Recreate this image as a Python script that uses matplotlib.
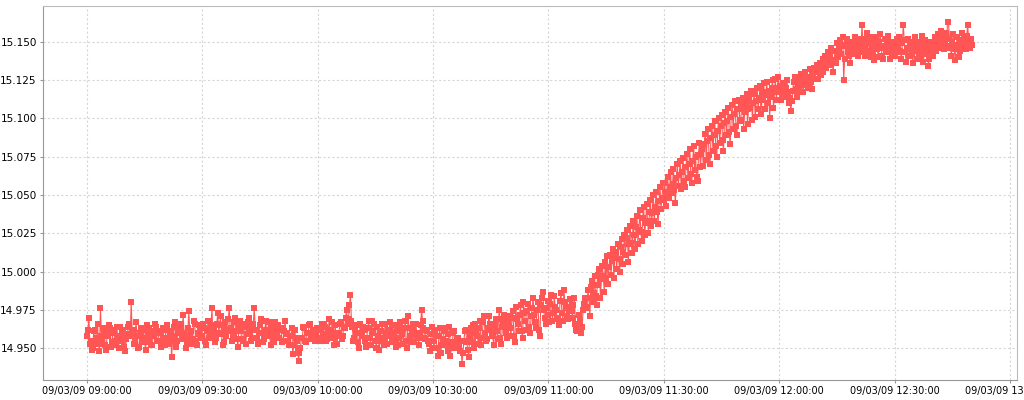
import matplotlib
matplotlib.use("Agg")
import matplotlib.pyplot as plt
import matplotlib.dates as mdates
import pandas as pd

# one reading every 15 s from 09:00:00 to 12:50:00, one line = 2.5 minutes
start_time = "2009-03-09 09:00:00"
step = "15s"

v_0900 = [14.958, 14.962, 14.970, 14.953, 14.955, 14.949, 14.950, 14.961, 14.962, 14.954,
          14.957, 14.966, 14.953, 14.948, 14.976, 14.958, 14.956, 14.963, 14.961, 14.952,
          14.949, 14.960, 14.958, 14.965, 14.963, 14.951, 14.954, 14.962, 14.960, 14.955,
          14.952, 14.964, 14.957, 14.950, 14.964, 14.958, 14.955, 14.962, 14.951, 14.957,
          14.948, 14.956, 14.959, 14.964, 14.966, 14.958, 14.980, 14.961, 14.962, 14.953,
          14.955, 14.967, 14.958, 14.950, 14.951, 14.960, 14.963, 14.955, 14.957, 14.962,
          14.954, 14.949, 14.965, 14.959, 14.956, 14.963, 14.960, 14.952, 14.952, 14.961,
          14.958, 14.966, 14.964, 14.955, 14.955, 14.960, 14.961, 14.951, 14.953, 14.963,
          14.957, 14.952, 14.962, 14.965, 14.956, 14.953, 14.959, 14.961, 14.944, 14.955,
          14.958, 14.964, 14.967, 14.951, 14.955, 14.962, 14.960, 14.966, 14.963, 14.956,
          14.972, 14.960, 14.957, 14.950, 14.954, 14.963, 14.974, 14.958, 14.961, 14.953,
          14.956, 14.968, 14.966, 14.955, 14.952, 14.960, 14.959, 14.965, 14.964, 14.957,
          14.958, 14.966, 14.963, 14.955, 14.952, 14.961, 14.968, 14.957, 14.960, 14.965,
          14.976, 14.958, 14.962, 14.954, 14.957, 14.966, 14.973, 14.960, 14.965, 14.971,
          14.959, 14.952, 14.954, 14.963, 14.967, 14.958, 14.961, 14.969, 14.976, 14.962,
          14.963, 14.955, 14.958, 14.967, 14.970, 14.961, 14.956, 14.951, 14.964, 14.968,
          14.961, 14.956, 14.955, 14.964, 14.966, 14.953, 14.959, 14.967, 14.970, 14.960,
          14.963, 14.955, 14.957, 14.966, 14.976, 14.962, 14.962, 14.957, 14.953, 14.960,
          14.965, 14.969, 14.960, 14.954, 14.956, 14.962, 14.968, 14.959, 14.962, 14.967,
          14.958, 14.952, 14.964, 14.960, 14.954, 14.963, 14.967, 14.958, 14.960, 14.965,
          14.957, 14.962, 14.963, 14.954, 14.955, 14.961, 14.968, 14.959, 14.960, 14.955,
          14.952, 14.958, 14.958, 14.963, 14.946, 14.952, 14.962, 14.957, 14.955, 14.950,
          14.942, 14.947, 14.950, 14.957, 14.957, 14.964, 14.963, 14.955, 14.954, 14.960,
          14.960, 14.965, 14.966, 14.958, 14.956, 14.962, 14.961, 14.955, 14.958, 14.963]

v_1000 = [14.962, 14.957, 14.955, 14.963, 14.966, 14.958, 14.959, 14.966, 14.964, 14.955,
          14.956, 14.962, 14.969, 14.960, 14.961, 14.967, 14.957, 14.952, 14.965, 14.960,
          14.953, 14.958, 14.960, 14.966, 14.967, 14.956, 14.958, 14.964, 14.963, 14.970,
          14.975, 14.966, 14.969, 14.978, 14.985, 14.968, 14.964, 14.955, 14.957, 14.963,
          14.960, 14.965, 14.954, 14.950, 14.966, 14.960, 14.958, 14.964, 14.962, 14.955,
          14.951, 14.957, 14.963, 14.968, 14.957, 14.952, 14.968, 14.961, 14.960, 14.966,
          14.955, 14.950, 14.964, 14.958, 14.949, 14.955, 14.961, 14.966, 14.957, 14.952,
          14.966, 14.960, 14.953, 14.958, 14.962, 14.967, 14.958, 14.954, 14.965, 14.960,
          14.956, 14.951, 14.961, 14.965, 14.952, 14.957, 14.967, 14.962, 14.959, 14.953,
          14.963, 14.968, 14.955, 14.950, 14.971, 14.963, 14.958, 14.954, 14.962, 14.966,
          14.954, 14.959, 14.966, 14.960, 14.957, 14.952, 14.960, 14.965, 14.975, 14.968,
          14.963, 14.957, 14.956, 14.962, 14.961, 14.955, 14.953, 14.948, 14.959, 14.964,
          14.955, 14.950, 14.962, 14.958, 14.950, 14.945, 14.958, 14.963, 14.947, 14.952,
          14.956, 14.961, 14.963, 14.955, 14.952, 14.948, 14.959, 14.964, 14.945, 14.950,
          14.954, 14.960, 14.961, 14.953, 14.950, 14.956, 14.957, 14.951, 14.948, 14.955,
          14.940, 14.947, 14.955, 14.961, 14.962, 14.954, 14.949, 14.944, 14.958, 14.963,
          14.960, 14.965, 14.954, 14.950, 14.966, 14.962, 14.958, 14.953, 14.963, 14.968,
          14.952, 14.957, 14.967, 14.971, 14.960, 14.955, 14.956, 14.963, 14.971, 14.966,
          14.962, 14.958, 14.958, 14.952, 14.965, 14.969, 14.961, 14.956, 14.969, 14.975,
          14.957, 14.953, 14.964, 14.968, 14.972, 14.964, 14.960, 14.957, 14.967, 14.971,
          14.963, 14.958, 14.970, 14.974, 14.958, 14.954, 14.977, 14.969, 14.966, 14.961,
          14.972, 14.978, 14.961, 14.957, 14.980, 14.973, 14.968, 14.962, 14.974, 14.979,
          14.964, 14.960, 14.971, 14.976, 14.983, 14.972, 14.967, 14.963, 14.975, 14.980,
          14.962, 14.958, 14.978, 14.983, 14.987, 14.975, 14.970, 14.966, 14.976, 14.981]

v_1100 = [14.972, 14.967, 14.979, 14.985, 14.968, 14.973, 14.984, 14.977, 14.975, 14.969,
          14.970, 14.965, 14.981, 14.986, 14.973, 14.968, 14.988, 14.980, 14.976, 14.971,
          14.969, 14.975, 14.982, 14.977, 14.974, 14.970, 14.978, 14.983, 14.966, 14.962,
          14.961, 14.966, 14.972, 14.968, 14.960, 14.964, 14.975, 14.979, 14.983, 14.977,
          14.976, 14.988, 14.983, 14.971, 14.990, 14.994, 14.980, 14.986, 14.997, 14.984,
          14.978, 14.998, 14.991, 15.002, 14.983, 14.995, 15.004, 14.997, 14.987, 15.006,
          14.996, 15.010, 14.992, 15.003, 15.011, 14.998, 15.007, 15.015, 14.996, 15.009,
          15.013, 15.002, 15.018, 15.008, 15.000, 15.016, 15.021, 15.005, 15.013, 15.024,
          15.011, 15.022, 15.027, 15.006, 15.018, 15.030, 15.019, 15.012, 15.033, 15.024,
          15.015, 15.029, 15.036, 15.018, 15.027, 15.040, 15.026, 15.020, 15.035, 15.042,
          15.024, 15.032, 15.044, 15.033, 15.025, 15.039, 15.047, 15.030, 15.038, 15.050,
          15.033, 15.042, 15.052, 15.039, 15.031, 15.046, 15.055, 15.041, 15.048, 15.058,
          15.047, 15.058, 15.043, 15.052, 15.062, 15.048, 15.055, 15.065, 15.051, 15.057,
          15.067, 15.053, 15.045, 15.061, 15.070, 15.056, 15.063, 15.072, 15.054, 15.065,
          15.074, 15.059, 15.055, 15.068, 15.077, 15.061, 15.070, 15.080, 15.064, 15.058,
          15.072, 15.082, 15.066, 15.075, 15.062, 15.059, 15.076, 15.084, 15.068, 15.077,
          15.080, 15.069, 15.083, 15.090, 15.073, 15.085, 15.093, 15.076, 15.070, 15.087,
          15.095, 15.079, 15.089, 15.098, 15.082, 15.075, 15.092, 15.100, 15.084, 15.095,
          15.102, 15.086, 15.079, 15.097, 15.104, 15.089, 15.098, 15.107, 15.091, 15.083,
          15.101, 15.109, 15.093, 15.103, 15.111, 15.095, 15.089, 15.106, 15.112, 15.098,
          15.099, 15.108, 15.113, 15.093, 15.104, 15.110, 15.116, 15.096, 15.106, 15.114,
          15.107, 15.118, 15.099, 15.110, 15.116, 15.101, 15.111, 15.120, 15.106, 15.113,
          15.121, 15.103, 15.112, 15.117, 15.123, 15.106, 15.115, 15.124, 15.110, 15.118,
          15.100, 15.114, 15.120, 15.125, 15.107, 15.117, 15.126, 15.112, 15.120, 15.127]

v_1200 = [15.117, 15.121, 15.112, 15.116, 15.123, 15.119, 15.114, 15.120, 15.125, 15.117,
          15.110, 15.113, 15.105, 15.111, 15.118, 15.124, 15.127, 15.119, 15.114, 15.121,
          15.126, 15.118, 15.123, 15.129, 15.122, 15.117, 15.125, 15.130, 15.123, 15.127,
          15.120, 15.126, 15.132, 15.124, 15.119, 15.128, 15.133, 15.126, 15.130, 15.135,
          15.126, 15.131, 15.136, 15.128, 15.133, 15.139, 15.130, 15.135, 15.141, 15.133,
          15.138, 15.143, 15.135, 15.140, 15.146, 15.137, 15.130, 15.138, 15.144, 15.136,
          15.149, 15.140, 15.145, 15.151, 15.142, 15.147, 15.153, 15.125, 15.139, 15.148,
          15.152, 15.143, 15.147, 15.141, 15.136, 15.146, 15.150, 15.142, 15.148, 15.153,
          15.144, 15.149, 15.141, 15.146, 15.152, 15.143, 15.161, 15.150, 15.147, 15.141,
          15.152, 15.156, 15.144, 15.149, 15.153, 15.140, 15.146, 15.151, 15.143, 15.138,
          15.148, 15.153, 15.145, 15.140, 15.150, 15.155, 15.146, 15.141, 15.139, 15.147,
          15.152, 15.143, 15.148, 15.154, 15.145, 15.139, 15.150, 15.146, 15.142, 15.149,
          15.141, 15.147, 15.152, 15.143, 15.148, 15.153, 15.144, 15.139, 15.149, 15.161,
          15.151, 15.143, 15.137, 15.146, 15.152, 15.141, 15.145, 15.150, 15.142, 15.136,
          15.147, 15.153, 15.144, 15.139, 15.150, 15.145, 15.140, 15.148, 15.154, 15.143,
          15.137, 15.146, 15.151, 15.142, 15.148, 15.134, 15.139, 15.145, 15.150, 15.144,
          15.141, 15.148, 15.153, 15.144, 15.149, 15.155, 15.146, 15.151, 15.157, 15.148,
          15.153, 15.145, 15.150, 15.156, 15.147, 15.163, 15.163, 15.152, 15.146, 15.141,
          15.150, 15.155, 15.145, 15.138, 15.147, 15.153, 15.148, 15.140, 15.144, 15.151,
          15.156, 15.147, 15.153, 15.149, 15.145, 15.154, 15.161, 15.150, 15.146, 15.152,
          15.148]

y_ticks = [14.950, 14.975, 15.000, 15.025, 15.050, 15.075, 15.100, 15.125, 15.150]

values = v_0900 + v_1000 + v_1100 + v_1200
times = pd.date_range(start_time, periods=len(values), freq=step)

red = "#FF5555"

fig = plt.figure(figsize=(10.24, 4), dpi=100)
ax = fig.add_axes([43 / 1024, 20 / 400, 974 / 1024, 374 / 400])

ax.plot(times, values, color=red, linewidth=0.8, marker="s",
        markersize=4.4, markeredgewidth=0, zorder=3)

ax.set_xlim(pd.Timestamp("2009-03-09 08:48:34"), pd.Timestamp("2009-03-09 13:01:49"))
ax.set_ylim(14.9293, 15.1733)

ax.xaxis.set_major_locator(mdates.MinuteLocator(byminute=[0, 30]))
ax.xaxis.set_major_formatter(mdates.DateFormatter("%d/%m/%y %H:%M:%S"))
ax.set_yticks(y_ticks)
ax.set_yticklabels([f"{t:.3f}" for t in y_ticks])

ax.grid(True, color="#D6D6D6", linestyle=(0, (2, 2)), linewidth=0.8, zorder=0)
ax.tick_params(axis="x", labelsize=7, length=2.5, color="#999999", pad=2)
ax.tick_params(axis="y", labelsize=7.5, length=2.5, color="#999999", pad=2)

for side in ["left", "bottom"]:
    ax.spines[side].set_color("#999999")
for side in ["top", "right"]:
    ax.spines[side].set_color("#BBBBBB")

fig.savefig("out.png", dpi=100)
